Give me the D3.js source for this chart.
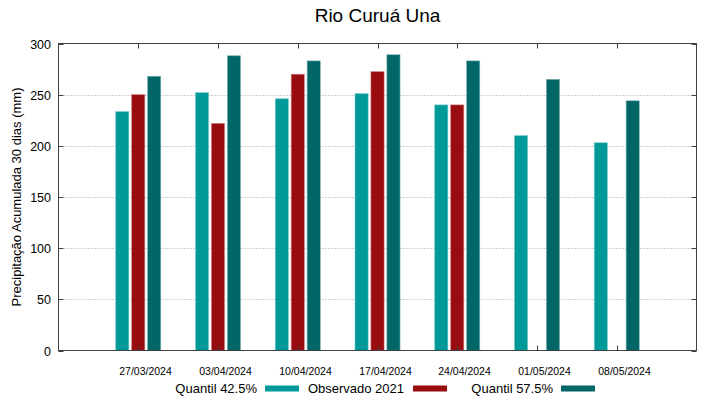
<!DOCTYPE html>
<html>
<head>
<meta charset="utf-8">
<script src="https://cdn.jsdelivr.net/npm/d3@7"></script>
<style>
  body { margin: 0; background: #fff; }
  svg { display: block; font-family: "Liberation Sans", Arial, sans-serif; }
</style>
</head>
<body>
<svg id="chart" width="719" height="399"></svg>
<script>
const title = "Rio Curuá Una";
const yLabel = "Precipitação Acumulada 30 dias (mm)";
const categories = ["27/03/2024", "03/04/2024", "10/04/2024", "17/04/2024", "24/04/2024", "01/05/2024", "08/05/2024"];
const seriesNames = ["Quantil 42.5%", "Observado 2021", "Quantil 57.5%"];
const quantil425 = [233.5, 252, 246, 251, 240, 210, 203];
const observado2021 = [250, 222, 270, 272.5, 240, null, null];
const quantil575 = [268, 288, 283, 289, 283, 265, 244];
const yTicks = [0, 50, 100, 150, 200, 250, 300];
const colors = ["#009999", "#990c0f", "#006666"];
const edgeColors = ["#7fcccc", "#cc8587", "#7fb2b2"];

const series = [quantil425, observado2021, quantil575];

const svg = d3.select("#chart");
const pLeft = 58.5, pRight = 696.5, pTop = 43.5, pBottom = 350.5;

const x = d3.scaleLinear().domain([0, categories.length + 1]).range([pLeft, pRight]);
const y = d3.scaleLinear().domain([0, 300]).range([pBottom, pTop]);

const barOffset = 0.2, barWidth = 0.165;

// grid
svg.append("g").selectAll("line").data(yTicks.filter(d => d > 0 && d < 300)).join("line")
  .attr("x1", pLeft).attr("x2", pRight)
  .attr("y1", d => Math.round(y(d)) + 0.5).attr("y2", d => Math.round(y(d)) + 0.5)
  .attr("stroke", "#a0a0a0").attr("stroke-width", 1).attr("stroke-dasharray", "1,2");

// bars
series.forEach((vals, j) => {
  svg.append("g").selectAll("rect")
    .data(vals.map((v, i) => ({ v, i })).filter(d => d.v !== null))
    .join("rect")
    .attr("x", d => x(d.i + 1 + (j - 1) * barOffset - barWidth / 2))
    .attr("width", x(barWidth) - x(0))
    .attr("y", d => y(d.v))
    .attr("height", d => y(0) - y(d.v))
    .attr("fill", colors[j])
    .attr("stroke", edgeColors[j]).attr("stroke-width", 0.6);
});

// border
svg.append("rect").attr("x", pLeft).attr("y", pTop).attr("width", pRight - pLeft).attr("height", pBottom - pTop)
  .attr("fill", "none").attr("stroke", "#404040").attr("stroke-width", 1);

// y ticks (inward both sides)
const tickLen = 5;
const yt = svg.append("g");
yTicks.forEach(t => {
  const yy = Math.round(y(t)) + 0.5;
  yt.append("line").attr("x1", pLeft).attr("x2", pLeft + tickLen).attr("y1", yy).attr("y2", yy).attr("stroke", "#404040");
  yt.append("line").attr("x1", pRight).attr("x2", pRight - tickLen).attr("y1", yy).attr("y2", yy).attr("stroke", "#404040");
  yt.append("text").attr("x", 51).attr("y", yy).attr("dy", "0.36em").attr("text-anchor", "end")
    .attr("font-size", 12.5).attr("fill", "#000").text(t);
});

// x ticks (inward top & bottom) and labels
const xt = svg.append("g");
categories.forEach((c, i) => {
  const xx = Math.round(x(i + 1)) + 0.5;
  xt.append("line").attr("x1", xx).attr("x2", xx).attr("y1", pTop).attr("y2", pTop + tickLen).attr("stroke", "#404040");
  xt.append("line").attr("x1", xx).attr("x2", xx).attr("y1", pBottom).attr("y2", pBottom - tickLen).attr("stroke", "#404040");
  xt.append("text").attr("x", xx + 7).attr("y", 371).attr("dy", "0.35em").attr("text-anchor", "middle")
    .attr("font-size", 10.5).attr("fill", "#000").text(c);
});

// title
svg.append("text").attr("x", 377.5).attr("y", 22).attr("text-anchor", "middle")
  .attr("font-size", 19).attr("fill", "#000").text(title);

// y label
svg.append("text").attr("transform", `translate(21,${(pTop + pBottom) / 2}) rotate(-90)`)
  .attr("text-anchor", "middle").attr("font-size", 13).attr("fill", "#000").text(yLabel);

// legend
const legendItems = [
  { textEnd: 257, swX: 265, swW: 34 },
  { textEnd: 404, swX: 413, swW: 34 },
  { textEnd: 553, swX: 561, swW: 34 }
];
const lg = svg.append("g");
seriesNames.forEach((n, j) => {
  const it = legendItems[j];
  lg.append("text").attr("x", it.textEnd).attr("y", 388).attr("dy", "0.35em").attr("text-anchor", "end")
    .attr("font-size", 13).attr("fill", "#000").text(n);
  lg.append("rect").attr("x", it.swX).attr("y", 385.5).attr("width", it.swW).attr("height", 6)
    .attr("fill", colors[j]);
});
</script>
</body>
</html>
